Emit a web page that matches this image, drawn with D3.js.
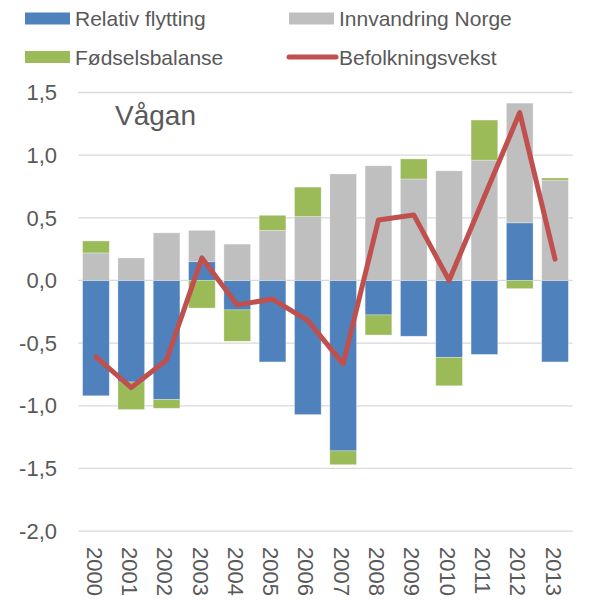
<!DOCTYPE html>
<html>
<head>
<meta charset="utf-8">
<script src="https://cdn.jsdelivr.net/npm/d3@7"></script>
<style>
  body { margin: 0; background: #fff; }
  svg text { font-family: "Liberation Sans", Arial, sans-serif; fill: #595959; }
</style>
</head>
<body>
<svg width="595" height="601"></svg>
<script>
// data
var years = ["2000","2001","2002","2003","2004","2005","2006","2007","2008","2009","2010","2011","2012","2013"];
var relativFlytting = [-0.92, -0.81, -0.95, 0.15, -0.235, -0.65, -1.07, -1.36, -0.275, -0.445, -0.615, -0.59, 0.46, -0.65];
var innvandringNorge = [0.22, 0.18, 0.38, 0.25, 0.29, 0.40, 0.51, 0.85, 0.915, 0.81, 0.875, 0.96, 0.955, 0.80];
var fodselsbalanse = [0.095, -0.22, -0.07, -0.22, -0.25, 0.12, 0.235, -0.11, -0.16, 0.16, -0.225, 0.32, -0.065, 0.018];
var befolkningsvekst = [-0.61, -0.855, -0.635, 0.18, -0.195, -0.148, -0.32, -0.665, 0.483, 0.523, 0.0, 0.67, 1.34, 0.17];
var yTicks = [-2, -1.5, -1, -0.5, 0, 0.5, 1, 1.5];

var keys = ["relativ", "innvandring", "fodsel"];
var colors = {relativ: "#4F81BD", innvandring: "#BFBFBF", fodsel: "#9BBB59"};
var lineColor = "#C0504D";

var rows = years.map(function(y, i) {
    return {year: y, relativ: relativFlytting[i], innvandring: innvandringNorge[i], fodsel: fodselsbalanse[i]};
});

var svg = d3.select("svg");

var x = d3.scaleBand()
    .domain(years)
    .range([78.3, 572.7])
    .paddingInner(0.245)
    .paddingOuter(0.1225);

var y = d3.scaleLinear()
    .domain([-2, 1.5])
    .range([531.1, 92.5]);

var locale = d3.formatLocale({decimal: ",", thousands: " ", grouping: [3], currency: ["", ""], minus: "-"});
var fmt = locale.format(".1f");

// gridlines
svg.append("g").selectAll("line")
    .data(yTicks)
    .enter().append("line")
    .attr("x1", 78.3).attr("x2", 572.7)
    .attr("y1", function(d) { return y(d); })
    .attr("y2", function(d) { return y(d); })
    .attr("stroke", "#D9D9D9")
    .attr("stroke-width", 1.3);

// y labels
svg.append("g").selectAll("text")
    .data(yTicks)
    .enter().append("text")
    .attr("x", 57)
    .attr("y", function(d) { return y(d); })
    .attr("dy", "0.35em")
    .attr("text-anchor", "end")
    .style("font-size", "22px")
    .text(function(d) { return fmt(d); });

// stacked bars
var series = d3.stack()
    .keys(keys)
    .offset(d3.stackOffsetDiverging)(rows);

svg.append("g").selectAll("g")
    .data(series)
    .enter().append("g")
    .attr("fill", function(d) { return colors[d.key]; })
    .selectAll("rect")
    .data(function(d) { return d; })
    .enter().append("rect")
    .attr("x", function(d) { return x(d.data.year); })
    .attr("width", x.bandwidth())
    .attr("y", function(d) { return y(Math.max(d[0], d[1])); })
    .attr("height", function(d) { return Math.abs(y(d[0]) - y(d[1])); })
    .attr("stroke", "#ffffff")
    .attr("stroke-opacity", 0.35)
    .attr("stroke-width", 0.8);

// line
var line = d3.line()
    .x(function(d, i) { return x(years[i]) + x.bandwidth() / 2; })
    .y(function(d) { return y(d); });

svg.append("path")
    .datum(befolkningsvekst)
    .attr("d", line)
    .attr("fill", "none")
    .attr("stroke", lineColor)
    .attr("stroke-width", 5)
    .attr("stroke-linejoin", "round")
    .attr("stroke-linecap", "round");

// x labels (rotated)
svg.append("g").selectAll("text")
    .data(years)
    .enter().append("text")
    .attr("transform", function(d) { return "translate(" + (x(d) + x.bandwidth() / 2 - 1) + ",547) rotate(90)"; })
    .attr("dy", "0.38em")
    .style("font-size", "22px")
    .text(function(d) { return d; });

// title
svg.append("text")
    .attr("x", 115)
    .attr("y", 125)
    .style("font-size", "28px")
    .text("Vågan");

// legend
var legendNames = ["Relativ flytting", "Innvandring Norge", "Fødselsbalanse", "Befolkningsvekst"];
var legendColors = [colors.relativ, colors.innvandring, colors.fodsel, lineColor];
var legendX = [25, 289, 25, 289];
var legendY = [18.5, 18.5, 57, 57];

legendNames.forEach(function(name, i) {
    var g = svg.append("g");
    if (i < 3) {
        g.append("rect")
            .attr("x", legendX[i]).attr("y", legendY[i] - 6)
            .attr("width", 45).attr("height", 12)
            .attr("fill", legendColors[i]);
    } else {
        g.append("line")
            .attr("x1", legendX[i]).attr("x2", legendX[i] + 47)
            .attr("y1", legendY[i]).attr("y2", legendY[i])
            .attr("stroke", legendColors[i])
            .attr("stroke-width", 5)
            .attr("stroke-linecap", "round");
    }
    g.append("text")
        .attr("x", legendX[i] + 50)
        .attr("y", legendY[i] + 7.5)
        .style("font-size", "21px")
        .text(name);
});
</script>
</body>
</html>
